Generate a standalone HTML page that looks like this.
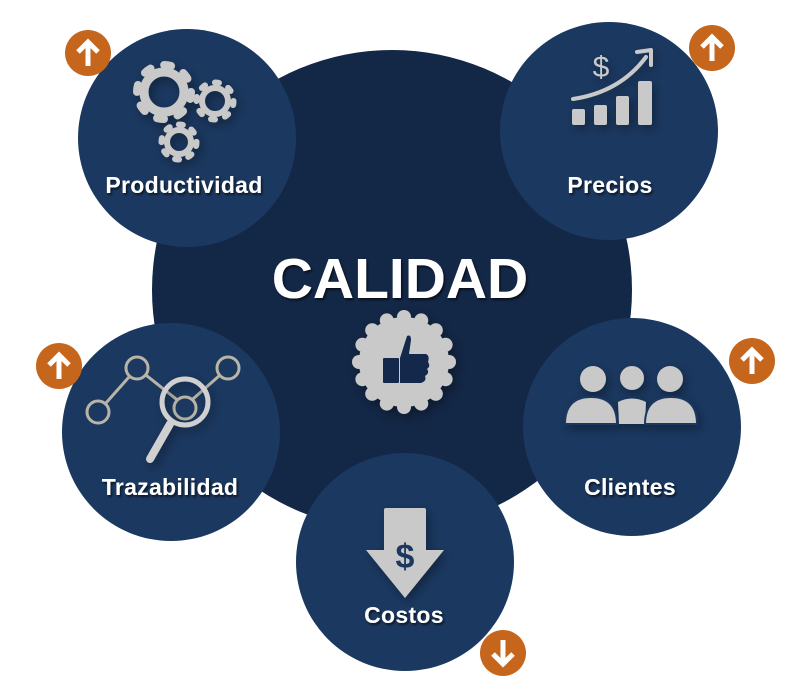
<!DOCTYPE html>
<html><head><meta charset="utf-8"><style>
html,body{margin:0;padding:0;background:#fff;}
svg{display:block;}
text{font-family:"Liberation Sans",sans-serif;font-weight:bold;fill:#fff;}
</style></head><body>
<svg width="796" height="684" viewBox="0 0 796 684" xmlns="http://www.w3.org/2000/svg">
<defs>
<filter id="ts" x="-10%" y="-10%" width="130%" height="140%"><feDropShadow dx="1.5" dy="2" stdDeviation="1" flood-color="#000" flood-opacity="0.6"/></filter>
<filter id="is" x="-30%" y="-30%" width="160%" height="160%"><feDropShadow dx="3" dy="4" stdDeviation="5" flood-color="#000" flood-opacity="0.35"/></filter>
</defs>
<circle cx="392" cy="290" r="240" fill="#132746"/>
<g fill="#1b3860">
<circle cx="187" cy="138" r="109"/>
<circle cx="609" cy="131" r="109"/>
<circle cx="171" cy="432" r="109"/>
<circle cx="632" cy="427" r="109"/>
<circle cx="405" cy="562" r="109"/>
</g>
<g fill="#c6661c">
<circle cx="88" cy="53" r="23"/><circle cx="712" cy="48" r="23"/>
<circle cx="59" cy="366" r="23"/><circle cx="752" cy="361" r="23"/>
<circle cx="503" cy="653" r="23"/>
</g>
<g stroke="#fff" stroke-width="5" fill="none">
<path d="M88 66V42M78 52l10-10 10 10"/>
<path d="M712 61V37M702 47l10-10 10 10"/>
<path d="M59 379V355M49 365l10-10 10 10"/>
<path d="M752 374V350M742 360l10-10 10 10"/>
<path d="M503 640V664M493 654l10 10 10-10"/>
</g>
<g filter="url(#is)" fill="none" stroke="#c9c9c9">
<circle cx="164" cy="92" r="20" stroke-width="9"/>
<circle cx="164" cy="92" r="27" stroke-width="8" stroke-dasharray="7 14.2" stroke-linecap="round"/>
<circle cx="215" cy="101" r="13" stroke-width="6"/>
<circle cx="215" cy="101" r="18.5" stroke-width="6" stroke-dasharray="4 10.5" stroke-linecap="round"/>
<circle cx="179" cy="142" r="12" stroke-width="6"/>
<circle cx="179" cy="142" r="17.5" stroke-width="6" stroke-dasharray="4 9.7" stroke-linecap="round"/>
</g>
<g filter="url(#is)" fill="#c9c9c9">
<rect x="572" y="109" width="13" height="16" rx="2"/>
<rect x="594" y="105" width="13" height="20" rx="2"/>
<rect x="616" y="96" width="13" height="29" rx="2"/>
<rect x="638" y="81" width="14" height="44" rx="2"/>
<path d="M573 99 Q620 92 646 57" fill="none" stroke="#c9c9c9" stroke-width="4" stroke-linecap="round"/>
<path d="M637 52 L651 50 L651 65" fill="none" stroke="#c9c9c9" stroke-width="4" stroke-linecap="round" stroke-linejoin="round"/>
<text x="601" y="77" font-size="30" text-anchor="middle" style="fill:#c9c9c9;font-weight:normal">$</text>
</g>
<g fill="none" stroke="#b8b4a6" stroke-width="3">
<path d="M98 412 L137 368 L185 406 L228 368"/>
<circle cx="98" cy="412" r="11" fill="#1b3860"/>
<circle cx="137" cy="368" r="11" fill="#1b3860"/>
<circle cx="228" cy="368" r="11" fill="#1b3860"/>
<circle cx="185" cy="408" r="11" fill="#1b3860"/>
</g>
<g filter="url(#is)">
<circle cx="185" cy="402" r="23" fill="none" stroke="#d0d0d0" stroke-width="5"/>
<line x1="170" y1="424" x2="150" y2="459" stroke="#d0d0d0" stroke-width="8" stroke-linecap="round"/>
</g>
<g filter="url(#is)" fill="#c9c9c9">
<circle cx="593" cy="379" r="13"/><circle cx="632" cy="378" r="12"/><circle cx="670" cy="379" r="13"/>
<path d="M619 424 L618 402 Q632 395 646 402 L645 424Z"/>
<path d="M565 424 Q565 397 591 397 Q617 397 617 424Z" stroke="#1b3860" stroke-width="2"/>
<path d="M645 424 Q645 397 671 397 Q697 397 697 424Z" stroke="#1b3860" stroke-width="2"/>
</g>
<g filter="url(#is)">
<path d="M386 508 H424 Q426 508 426 510 V550 H444 L405 598 L366 550 H384 V510 Q384 508 386 508Z" fill="#c9c9c9"/>
<text x="405" y="568" font-size="34" text-anchor="middle" style="fill:#1b3860">$</text>
</g>
<g fill="#c9c9c9" filter="url(#is)">
<circle cx="404" cy="362" r="45"/>
<circle cx="449" cy="362" r="7"/><circle cx="445.6" cy="379.2" r="7"/><circle cx="435.8" cy="393.8" r="7"/><circle cx="421.2" cy="403.6" r="7"/><circle cx="404" cy="407" r="7"/><circle cx="386.8" cy="403.6" r="7"/><circle cx="372.2" cy="393.8" r="7"/><circle cx="362.4" cy="379.2" r="7"/><circle cx="359" cy="362" r="7"/><circle cx="362.4" cy="344.8" r="7"/><circle cx="372.2" cy="330.2" r="7"/><circle cx="386.8" cy="320.4" r="7"/><circle cx="404" cy="317" r="7"/><circle cx="421.2" cy="320.4" r="7"/><circle cx="435.8" cy="330.2" r="7"/><circle cx="445.6" cy="344.8" r="7"/>
</g>
<g fill="#13284a">
<rect x="383" y="358" width="16" height="25" rx="1"/>
<path d="M400 358 L407 336 Q411 334 411 340 L409 354 H426 Q430 356 428 362 Q431 366 427 369 Q430 373 425 376 Q427 381 421 383 H400Z"/>
</g>
<g filter="url(#ts)">
<text x="400" y="298" font-size="57" text-anchor="middle">CALIDAD</text>
<text x="184" y="193" font-size="23" text-anchor="middle" letter-spacing="0.3">Productividad</text>
<text x="610" y="193" font-size="23" text-anchor="middle" letter-spacing="0.3">Precios</text>
<text x="170" y="495" font-size="23" text-anchor="middle" letter-spacing="0.3">Trazabilidad</text>
<text x="630" y="495" font-size="23" text-anchor="middle" letter-spacing="0.3">Clientes</text>
<text x="404" y="623" font-size="23" text-anchor="middle" letter-spacing="0.3">Costos</text>
</g>
</svg>
</body></html>
